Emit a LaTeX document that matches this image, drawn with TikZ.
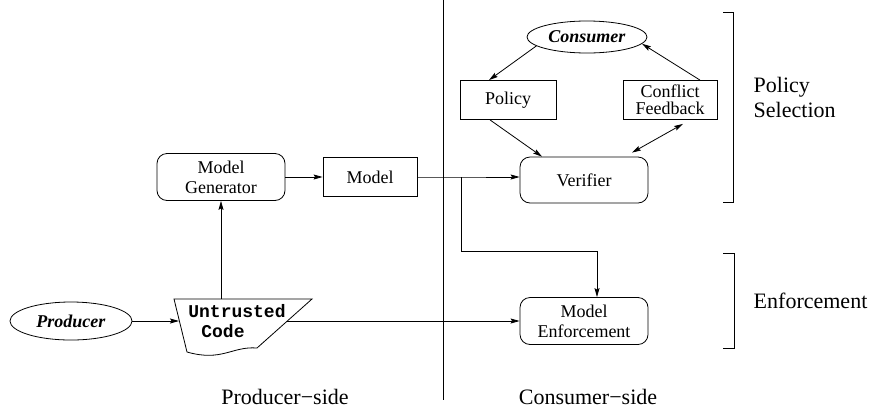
\documentclass[tikz,border=0pt]{standalone}
\usepackage{fontspec}
\setmainfont{Liberation Serif}
\setmonofont{Liberation Mono}
\usetikzlibrary{%
        arrows.meta,
        shapes.geometric
    }
\tikzset{%
    boxfont/.style={font=\fontsize{18}{20}\selectfont},
    sidefont/.style={font=\fontsize{22}{25}\selectfont},
    roundbox/.style={draw, boxfont, rounded corners=10pt, align=center,
        minimum width=128pt, minimum height=47pt, inner sep=0pt},
    squarebox/.style={draw, boxfont, align=center,
        minimum width=95pt, minimum height=39pt, inner sep=0pt},
    actor/.style={draw, ellipse, boxfont, inner sep=0pt},
    arr/.style={-{Stealth[length=9pt, width=5pt, inset=1.5pt]}},
    dblarr/.style={{Stealth[length=9pt, width=5pt, inset=1.5pt]}-{Stealth[length=9pt, width=5pt, inset=1.5pt]}}
}

\begin{document}
\begin{tikzpicture}[x=1pt, y=-1pt, line width=0.8pt]

    \useasboundingbox (0, 0) rectangle (874, 413);

    % Divider
    \draw (443, 0) -- (443, 400);

    %%% Producer side
    \node[actor, minimum width=122pt, minimum height=38pt] (producer) at (71, 321)
        {\textbf{\textit{Producer}}};

    % Untrusted code
    \draw (174, 299) -- (312, 299) -- (257, 348)
        .. controls (232, 346) and (222, 362) .. (187, 352) -- cycle;
    \coordinate (code-in) at (179, 321);
    \coordinate (code-out) at (287, 321);
    \coordinate (code-top) at (221, 299);
    \node[boxfont, align=left, inner sep=0pt] (code) at (237, 321)
        {\texttt{\textbf{Untrusted}}\\\hspace{13pt}\texttt{\textbf{Code}}};

    \node[roundbox] (mgen) at (221, 177) {Model\\Generator};
    \node[squarebox, minimum width=94pt] (model) at (370, 177) {Model};

    \draw[arr] (producer.east) -- (code-in);
    \draw[arr] (code-top) -- (mgen.south);
    \draw[arr] (mgen.east) -- (model.west);

    \node[sidefont] (prod-side) at (285, 397) {Producer\textminus side};

    %%% Consumer side
    \node[actor, minimum width=120pt, minimum height=32pt] (consumer) at (587, 37)
        {\textbf{\textit{Consumer}}};
    \node[squarebox, minimum width=96pt] (policy) at (508, 100) {Policy};
    \node[squarebox, minimum width=94pt] (conflict) at (670, 100)
        {Conflict\\[-3pt]Feedback};
    \node[roundbox, minimum height=46pt] (verifier) at (584, 180) {Verifier};
    \node[roundbox] (menf) at (584, 321) {Model\\Enforcement};

    \coordinate (split) at (461, 177);
    \draw[arr] (model.east) -- (split) -- (verifier.west |- split);
    \draw[arr] (split) -- (461, 251) -| ([xshift=13pt] menf.north);
    \draw[arr] (code-out) -- (menf.west |- code-out);

    \draw[arr] (consumer.190) -- ([xshift=-19pt] policy.north);
    \draw[arr] ([xshift=30pt] conflict.north) -- (consumer.-7);
    \draw[arr] ([xshift=-18pt] policy.south) -- ([xshift=-42pt] verifier.north);
    \draw[dblarr] ([xshift=48pt, yshift=4pt] verifier.north)
        -- ([xshift=13pt, yshift=-4pt] conflict.south);

    \node[sidefont] (cons-side) at (588, 397) {Consumer\textminus side};

    %%% Brackets
    \draw (723, 12) -- (733, 12) -- (733, 202) -- (723, 202);
    \node[sidefont, anchor=west, align=left] (selection) at (750, 97)
        {Policy\\Selection};

    \draw (723, 253) -- (734, 253) -- (734, 348) -- (723, 348);
    \node[sidefont, anchor=west] (enforcement) at (750, 301) {Enforcement};

\end{tikzpicture}
\end{document}
